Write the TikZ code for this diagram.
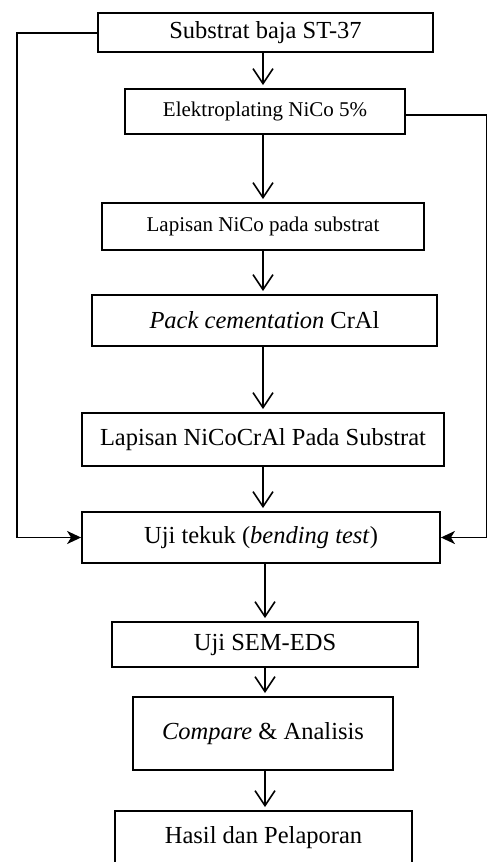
\documentclass[tikz,border=0pt]{standalone}
\usepackage{fontspec}
\setmainfont{Liberation Serif}
\usetikzlibrary{arrows.meta}
\begin{document}
\begin{tikzpicture}[x=1pt,y=-1pt,
  box/.style={draw,line width=1.8pt,inner sep=0pt,align=center,font=\fontsize{24.5}{28}\selectfont},
  smallbox/.style={box,font=\fontsize{21}{25}\selectfont},
  varr/.style={line width=1.8pt,-{Straight Barb[length=15pt,width=20pt,line width=1.6pt]},shorten >=3pt},
  fb/.style={line width=1.8pt,-{Stealth[length=14pt,width=13pt,inset=4pt]}}]
\useasboundingbox (0,0) rectangle (488,862);
\node[box,minimum width=335pt,minimum height=39pt] (b1) at (265.5,32.5) {Substrat baja ST-37};
\node[smallbox,minimum width=280pt,minimum height=45pt] (b2) at (265,111.5) {\raisebox{-3pt}{Elektroplating NiCo 5\%}};
\node[smallbox,minimum width=322pt,minimum height=47pt] (b3) at (263,226.5) {Lapisan NiCo pada substrat};
\node[box,minimum width=345pt,minimum height=51pt] (b4) at (264.5,320.5) {\textit{Pack cementation} CrAl};
\node[box,minimum width=362pt,minimum height=53pt] (b5) at (263,439.5) {Lapisan NiCoCrAl Pada Substrat};
\node[box,minimum width=358pt,minimum height=51pt] (b6) at (261,537.5) {Uji tekuk (\textit{bending test})};
\node[box,minimum width=306pt,minimum height=45pt] (b7) at (265,644.5) {Uji SEM-EDS};
\node[box,minimum width=260pt,minimum height=73pt] (b8) at (263,733.5) {\textit{Compare} \& Analisis};
\node[box,minimum width=297pt,minimum height=53pt] (b9) at (263.5,837.5) {Hasil dan Pelaporan};
\coordinate (X) at (263,0);
\coordinate (Y) at (265,0);
\coordinate (L) at (17,33);
\coordinate (R) at (486.5,115);
\draw[varr] (b1.south -| X) -- (b2.north -| X);
\draw[varr] (b2.south -| X) -- (b3.north -| X);
\draw[varr] (b3.south -| X) -- (b4.north -| X);
\draw[varr] (b4.south -| X) -- (b5.north -| X);
\draw[varr] (b5.south -| X) -- (b6.north -| X);
\draw[varr] (b6.south -| Y) -- (b7.north -| Y);
\draw[varr] (b7.south -| Y) -- (b8.north -| Y);
\draw[varr] (b8.south -| Y) -- (b9.north -| Y);
\draw[fb] (b1.west |- L) -- (L) -- (L |- b6.west) -- (b6.west);
\draw[fb] (b2.east |- R) -- (R) -- (R |- b6.east) -- (b6.east);
\end{tikzpicture}
\end{document}
